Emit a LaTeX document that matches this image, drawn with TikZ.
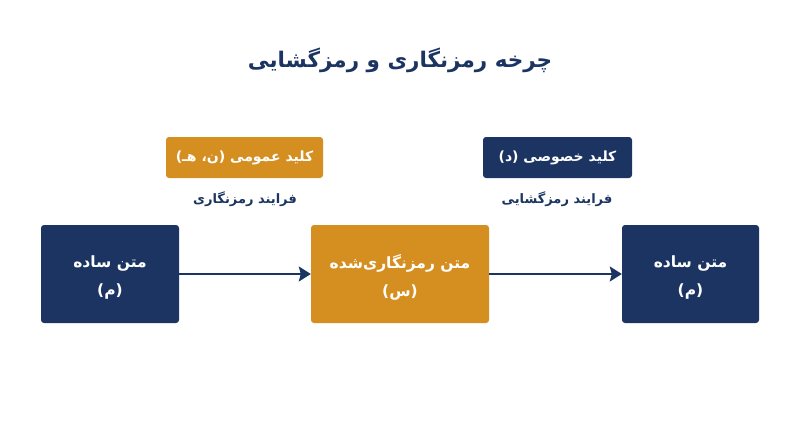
\documentclass[tikz,border=0pt]{standalone}
\usepackage{fontspec}
\usetikzlibrary{arrows.meta}
\TeXXeTstate=1
\newfontfamily\arabicfont[Script=Arabic]{DejaVu Sans}
\definecolor{navy}{HTML}{1B3461}
\definecolor{amber}{HTML}{D58F21}
\begin{document}
\begin{tikzpicture}[x=1pt,y=-1pt,
  block/.style={rounded corners=3pt, inner sep=0pt, minimum height=98pt},
  blocktext/.style={inner sep=0pt, align=center, text=white,
    font=\arabicfont\bfseries\fontsize{15.5}{28}\selectfont},
  keybox/.style={rounded corners=3pt, inner sep=0pt, align=center, text=white,
    font=\arabicfont\bfseries\fontsize{14}{18}\selectfont},
  lbl/.style={text=navy, font=\arabicfont\bfseries\fontsize{13}{18}\selectfont},
  conn/.style={draw=navy, line width=1.8pt, -{Stealth[length=12pt,width=15pt,inset=2pt]}}]
\useasboundingbox (0,0) rectangle (800,447);
\fill[white] (0,0) rectangle (800,447);
\node[text=navy, font=\arabicfont\bfseries\fontsize{21.5}{28}\selectfont] (title) at (400,60) {\beginR چرخه رمزنگاری و رمزگشایی\endR};
\node[keybox, fill=amber, minimum width=157pt, minimum height=41pt] (pub) at (244.5,157.5) {\beginR کلید عمومی (ن، هـ)\endR};
\node[keybox, fill=navy, minimum width=149pt, minimum height=41pt] (priv) at (557.5,157.5) {\beginR کلید خصوصی (د)\endR};
\node[lbl] (enc) at (245,199) {\beginR فرایند رمزنگاری\endR};
\node[lbl] (dec) at (557,199) {\beginR فرایند رمزگشایی\endR};
\node[block, fill=navy, minimum width=138pt] (p1) at (110,274) {};
\node[block, fill=amber, minimum width=178pt] (c) at (400,274) {};
\node[block, fill=navy, minimum width=137pt] (p2) at (690.5,274) {};
\node[blocktext] (p1t) at ([yshift=-3pt]p1.center) {\beginR متن ساده\endR\\\beginR (م)\endR};
\node[blocktext] (ct) at ([yshift=-3pt]c.center) {\beginR متن رمزنگاری‌شده\endR\\\beginR (س)\endR};
\node[blocktext] (p2t) at ([yshift=-3pt]p2.center) {\beginR متن ساده\endR\\\beginR (م)\endR};
\draw[conn] (p1) -- (c);
\draw[conn] (c) -- (p2);
\end{tikzpicture}
\end{document}
